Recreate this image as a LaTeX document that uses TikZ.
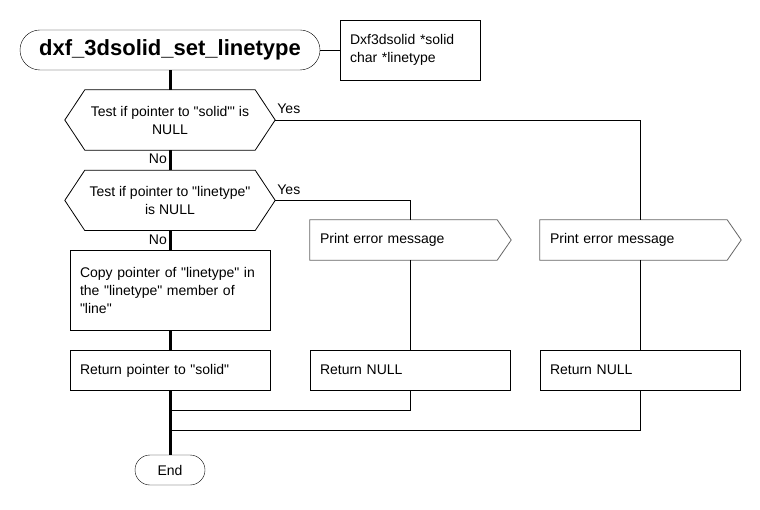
\documentclass[tikz,border=0pt]{standalone}
\usepackage{fontspec}
\setmainfont{Liberation Sans}
\usepackage{tikz}
\usetikzlibrary{positioning,calc}
\newcommand{\qt}[1]{\textquotedbl#1\textquotedbl}

\begin{document}
\begin{tikzpicture}[
      x=1pt,y=-1pt,
      every node/.style={font=\fontsize{14}{18}\selectfont},
      box/.style={
        rectangle,
        draw,
        fill=white,
        minimum width=200pt,
        minimum height=40pt,
        text width=180pt,
        align=left,
        inner sep=0pt
      },
      term/.style={
        rectangle,
        draw,
        minimum height=30pt,
        minimum width=70pt,
        rounded corners=15pt,
        align=center,
        inner sep=0pt
      },
      test/.style={
        rectangle,
        minimum width=210pt,
        minimum height=60pt,
        align=center,
        inner sep=0pt
      },
      msg/.style={box,draw=none},
      mainline/.style={draw=black,line width=3pt},
      thinline/.style={draw=black,line width=0.8pt},
      lbl/.style={inner sep=1pt}
    ]
    \useasboundingbox (0,0) rectangle (760,510);

    % Title and arguments
    \node[term,minimum width=300pt,minimum height=40pt,rounded corners=20pt,
          font=\fontsize{22}{26}\selectfont\bfseries] (start) at (170,50) {dxf\_3dsolid\_set\_linetype};
    \node[box,minimum width=140pt,minimum height=60pt,text width=120pt] (args) at (410,50) {Dxf3dsolid *solid\\char *linetype};

    % Tests
    \node[test] (t1) at (170,120) {Test if pointer to \qt{solid}\textquotesingle\ is\\NULL};
    \node[test,below=20pt of t1] (t2) {Test if pointer to \qt{linetype}\\is NULL};
    \foreach \n in {t1,t2}
      \draw[thinline] (\n.west) -- ($(\n.north west)+(20,0)$) -- ($(\n.north east)+(-20,0)$) -- (\n.east)
        -- ($(\n.south east)+(-20,0)$) -- ($(\n.south west)+(20,0)$) -- cycle;

    % Main path
    \node[box,minimum height=80pt] (copy) at (170,290) {Copy pointer of \qt{linetype} in\\the \qt{linetype} member of\\\qt{line}};
    \node[box,below=20pt of copy] (retsolid) {Return pointer to \qt{solid}};
    \node[term] (end) at (170,470) {End};

    % Error paths
    \node[msg] (err1) at (410,240) {Print error message};
    \node[msg] (err2) at (640,240) {Print error message};
    \foreach \n in {err1,err2}
      \draw[thinline,draw=black!60] (\n.north west) -- ($(\n.north east)+(-13,0)$) -- ($(\n.east)+(1,0)$)
        -- ($(\n.south east)+(-13,0)$) -- (\n.south west) -- cycle;
    \node[box] (ret1) at (410,370) {Return NULL};
    \node[box] (ret2) at (640,370) {Return NULL};

    \coordinate (join1) at (170,410);
    \coordinate (join2) at (170,430);

    \draw[thinline] (start.east) -- (args.west);
    \draw[mainline] (start) -- (t1);
    \draw[mainline] (t1) -- (t2);
    \draw[mainline] (t2) -- (copy);
    \draw[mainline] (copy) -- (retsolid);
    \draw[mainline] (retsolid) -- (end);

    \draw[thinline] (t1.east) -| (err2.north);
    \draw[thinline] (t2.east) -| (err1.north);
    \draw[thinline] (err1) -- (ret1);
    \draw[thinline] (err2) -- (ret2);
    \draw[thinline] (ret1.south) |- (join1);
    \draw[thinline] (ret2.south) |- (join2);

    \node[lbl,anchor=west] (yes1) at ($(t1.east)+(1,-11)$) {Yes};
    \node[lbl,anchor=west] (yes2) at ($(t2.east)+(1,-11)$) {Yes};
    \node[lbl,anchor=east] (no1) at ($(t1.south)+(-2,9)$) {No};
    \node[lbl,anchor=east] (no2) at ($(t2.south)+(-2,9)$) {No};
  \end{tikzpicture}
\end{document}
